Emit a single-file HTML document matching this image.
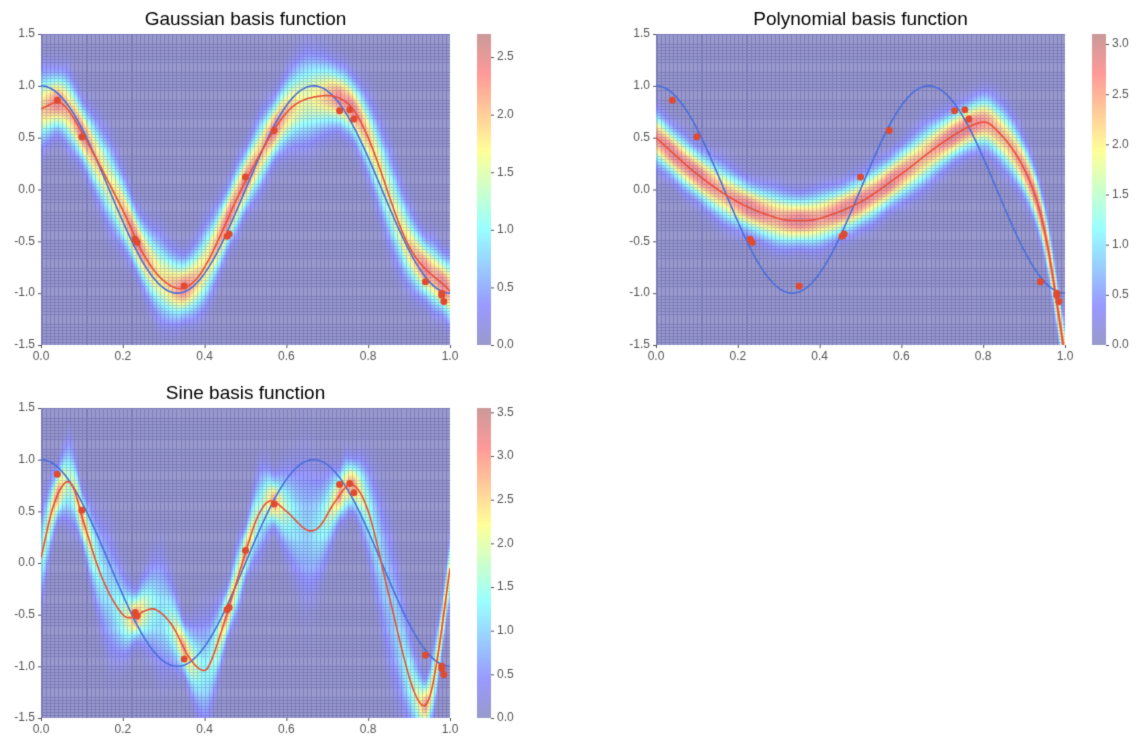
<!DOCTYPE html>
<html><head><meta charset="utf-8"><style>
body{margin:0;background:#fff;width:1143px;height:748px;overflow:hidden;position:relative;font-family:"Liberation Sans",sans-serif}
canvas{position:absolute;left:0;top:0}
</style></head><body>
<canvas id="c" width="1143" height="748"></canvas>
<script>
const cv=document.getElementById('c'),ctx=cv.getContext('2d');
function jet(t){t=Math.max(0,Math.min(1,t));const c=v=>Math.max(0,Math.min(1,v));
return [c(1.5-Math.abs(4*t-3)),c(1.5-Math.abs(4*t-2)),c(1.5-Math.abs(4*t-1))];}
function blend(t){const j=jet(t);return j.map(v=>Math.round(0.4*v*255+0.6*255));}
function interp(pts,x){
 let i=0;while(i<pts.length-2&&x>pts[i+1][0])i++;
 const p0=pts[Math.max(0,i-1)],p1=pts[i],p2=pts[i+1],p3=pts[Math.min(pts.length-1,i+2)];
 const t=(x-p1[0])/(p2[0]-p1[0]);const t2=t*t,t3=t2*t;
 const m1=(p2[1]-p0[1])/(p2[0]-p0[0])*(p2[0]-p1[0]);
 const m2=(p3[1]-p1[1])/(p3[0]-p1[0])*(p2[0]-p1[0]);
 return (2*t3-3*t2+1)*p1[1]+(t3-2*t2+t)*m1+(-2*t3+3*t2)*p2[1]+(t3-t2)*m2;}
const data=[[0.04,0.86],[0.10,0.51],[0.23,-0.48],[0.235,-0.51],[0.35,-0.93],[0.455,-0.45],[0.46,-0.43],[0.50,0.12],[0.57,0.57],[0.73,0.76],[0.755,0.77],[0.765,0.68],[0.94,-0.89],[0.98,-1.02],[0.985,-1.08],[0.98,-1.0]];
function gap(x){let d=1;for(const p of data)d=Math.min(d,Math.abs(p[0]-x));return d;}
const plots=[
{x0:41,y0:34,w:409,h:311,title:"Gaussian basis function",cbx:477,max:2.7,ticks:[0,0.5,1,1.5,2,2.5],
 mean:[[0,0.78],[0.05,0.83],[0.1,0.55],[0.2,-0.2],[0.25,-0.62],[0.3,-0.88],[0.35,-0.95],[0.4,-0.75],[0.5,0.08],[0.6,0.74],[0.68,0.9],[0.75,0.83],[0.8,0.5],[0.9,-0.55],[1,-0.98]],
 sd:x=>0.16+Math.min(0.12,gap(x)*1.2)},
{x0:656,y0:34,w:409,h:311,title:"Polynomial basis function",cbx:1092,max:3.1,ticks:[0,0.5,1,1.5,2,2.5,3],
 mean:[[0,0.5],[0.1,0.15],[0.2,-0.12],[0.3,-0.28],[0.35,-0.3],[0.4,-0.28],[0.5,-0.12],[0.6,0.15],[0.7,0.45],[0.78,0.63],[0.82,0.62],[0.9,0.2],[0.95,-0.4],[1,-1.6]],
 sd:x=>0.135+Math.min(0.04,gap(x)*0.4)},
{x0:41,y0:408,w:409,h:310,title:"Sine basis function",cbx:477,max:3.55,ticks:[0,0.5,1,1.5,2,2.5,3,3.5],
 mean:[[0,0.05],[0.03,0.55],[0.06,0.78],[0.08,0.72],[0.1,0.45],[0.15,-0.15],[0.2,-0.5],[0.23,-0.52],[0.25,-0.47],[0.28,-0.45],[0.32,-0.6],[0.36,-0.9],[0.39,-1.03],[0.41,-1.0],[0.45,-0.55],[0.5,0.1],[0.53,0.45],[0.56,0.6],[0.6,0.5],[0.65,0.32],[0.68,0.35],[0.72,0.6],[0.76,0.76],[0.8,0.5],[0.85,-0.3],[0.9,-1.1],[0.93,-1.37],[0.95,-1.3],[0.97,-0.9],[1,-0.05]],
 sd:x=>0.13+Math.min(0.5,gap(x)*3.5)}
];
for(const P of plots){
 const img=ctx.createImageData(P.w,P.h);
 for(let i=0;i<P.w;i++){const x=(i+0.5)/P.w;const m=interp(P.mean,x),s=P.sd(x);
  for(let j=0;j<P.h;j++){const y=1.5-3*(j+0.5)/P.h;const d=Math.exp(-0.5*((y-m)/s)**2)/(s*2.5066);
   let c=blend(d/P.max);
   const gx=(i/P.w*100)%1, gy=(j/P.h*100)%1;
   if(gx<0.25||gy<0.25){c=c.map((v,k)=>Math.round(v*0.82+(k==2?20:0)));}
   const o=(j*P.w+i)*4;img.data[o]=c[0];img.data[o+1]=c[1];img.data[o+2]=Math.min(255,c[2]);img.data[o+3]=255;}}
 ctx.putImageData(img,P.x0,P.y0);
 for(let j=0;j<P.h;j++){const c=blend(1-j/P.h);ctx.fillStyle=`rgb(${c})`;ctx.fillRect(P.cbx,P.y0+j,14,1);}
 ctx.fillStyle="#555";ctx.font="12px 'Liberation Sans'";ctx.textBaseline="middle";ctx.textAlign="left";
 for(const t of P.ticks){const yy=P.y0+P.h-t/P.max*P.h;ctx.fillRect(P.cbx+14,yy,3,1);ctx.fillText(t.toFixed(1),P.cbx+20,yy);}
 ctx.textAlign="right";
 for(let k=0;k<7;k++){const v=1.5-0.5*k;const yy=P.y0+k*P.h/6;ctx.fillRect(P.x0-3,yy,3,1);ctx.fillText(v.toFixed(1),P.x0-6,yy);}
 ctx.textAlign="center";ctx.textBaseline="top";
 for(let k=0;k<6;k++){const xx=P.x0+k*P.w/5;ctx.fillRect(xx,P.y0+P.h,1,3);ctx.fillText((k*0.2).toFixed(1),xx,P.y0+P.h+6);}
 ctx.fillStyle="#000";ctx.font="19px 'Liberation Sans'";ctx.textBaseline="bottom";ctx.fillText(P.title,P.x0+P.w/2,P.y0-5);
 ctx.save();ctx.beginPath();ctx.rect(P.x0,P.y0,P.w,P.h);ctx.clip();
 const X=x=>P.x0+x*P.w,Y=y=>P.y0+(1.5-y)/3*P.h;
 ctx.lineWidth=1.6;ctx.strokeStyle="#4a6fdc";ctx.beginPath();
 for(let i=0;i<=200;i++){const x=i/200;ctx.lineTo(X(x),Y(Math.cos(3*Math.PI*x)));}ctx.stroke();
 ctx.strokeStyle="#e8523a";ctx.beginPath();
 for(let i=0;i<=400;i++){const x=i/400;ctx.lineTo(X(x),Y(interp(P.mean,x)));}ctx.stroke();
 ctx.fillStyle="#e04a30";
 for(const p of data){ctx.beginPath();ctx.arc(X(p[0]),Y(p[1]),3.5,0,7);ctx.fill();}
 ctx.restore();
}
</script>
</body></html>
